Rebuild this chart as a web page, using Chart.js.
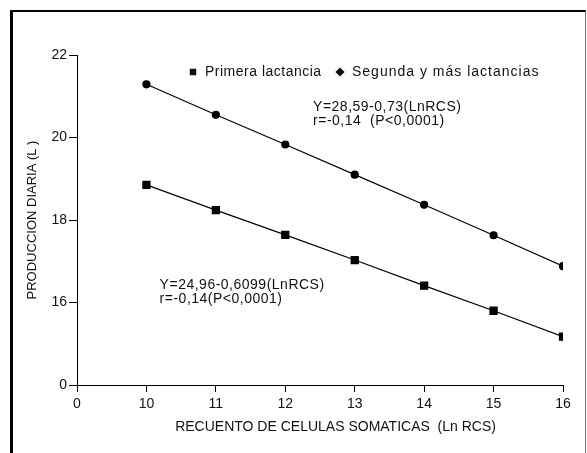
<!DOCTYPE html>
<html>
<head>
<meta charset="utf-8">
<script src="https://cdn.jsdelivr.net/npm/chart.js@4/dist/chart.umd.min.js"></script>
<style>
  html, body { margin: 0; padding: 0; background: #fff; overflow: hidden; }
  #wrap { position: relative; width: 587px; height: 453px; }
  #frame {
    position: absolute; left: 10px; top: 10px; width: 572px; height: 460px;
    border-left: 3px solid #000; border-top: 2px solid #000; border-right: 1px solid #777;
    pointer-events: none;
  }
</style>
</head>
<body>
<div id="wrap">
  <canvas id="chart" width="587" height="453"></canvas>
  <div id="frame"></div>
</div>
<script>
// values
const lnRcs = [10, 11, 12, 13, 14, 15, 16];
const primera = [18.85, 18.24, 17.64, 17.03, 16.41, 15.80, 15.17];
const segunda = [21.29, 20.55, 19.83, 19.10, 18.37, 17.63, 16.88];
const seriesNames = ['Primera lactancia', 'Segunda y más lactancias'];
const notePrimera = ['Y=24,96-0,6099(LnRCS)', 'r=-0,14(P<0,0001)'];
const noteSegunda = ['Y=28,59-0,73(LnRCS)', 'r=-0,14  (P<0,0001)'];

const FONT = 'Liberation Sans, Arial, Helvetica, sans-serif';

// legend row inside the plot and the regression texts
const notesPlugin = {
  id: 'notes',
  afterDatasetsDraw(chart) {
    const ctx = chart.ctx, x = chart.scales.x, y = chart.scales.y, area = chart.chartArea;
    ctx.save();
    ctx.fillStyle = '#111';
    ctx.strokeStyle = '#111';
    ctx.textAlign = 'left';
    ctx.textBaseline = 'middle';

    // legend
    ctx.font = '14px ' + FONT;
    const ly = area.top + 17;
    const marks = [{pointStyle: 'rect', radius: 4.6}, {pointStyle: 'rectRot', radius: 4.6}];
    const starts = [area.left + 116, area.left + 263];
    const spacing = ['0.5px', '1px'];
    seriesNames.forEach((name, i) => {
      Chart.helpers.drawPoint(ctx, Object.assign({rotation: 0, borderWidth: 0}, marks[i]), starts[i], ly);
      ctx.letterSpacing = spacing[i];
      ctx.fillText(name, starts[i] + 12, ly);
    });

    // regression equations
    ctx.letterSpacing = '0.5px';
    ctx.font = '14px ' + FONT;
    const put = (lines, dx, dy) => {
      lines.forEach((t, i) => ctx.fillText(t, x.getPixelForValue(dx), y.getPixelForValue(dy) + i * 14));
    };
    put(noteSegunda, 12.40, 20.74);
    put(notePrimera, 10.19, 16.42);
    ctx.restore();
  }
};

const context = document.getElementById('chart').getContext('2d');
const chart = new Chart(context, {
  type: 'line',
  data: {
    datasets: [{
      label: seriesNames[0],
      data: lnRcs.map((v, i) => ({x: v, y: primera[i]})),
      borderColor: '#000',
      backgroundColor: '#000',
      borderWidth: 1.2,
      pointStyle: 'rect',
      pointRadius: 5,
      pointHoverRadius: 5
    },
    {
      label: seriesNames[1],
      data: lnRcs.map((v, i) => ({x: v, y: segunda[i]})),
      borderColor: '#000',
      backgroundColor: '#000',
      borderWidth: 1.2,
      pointStyle: 'circle',
      pointRadius: 3.5,
      pointHoverRadius: 3.5
    }]
  },
  options: {
    responsive: false,
    animation: false,
    layout: { padding: {left: 0, top: 55, right: 24, bottom: 0} },
    plugins: {
      tooltip: { enabled: false },
      legend: { display: false }
    },
    scales: {
      x: {
        type: 'linear',
        min: 9,
        max: 16,
        afterFit(scale) { scale.height = 68; },
        ticks: {
          stepSize: 1,
          color: '#111',
          padding: 4,
          font: { family: FONT, size: 14 },
          callback: v => v === 9 ? '0' : v
        },
        grid: { drawOnChartArea: false, drawTicks: true, tickLength: 7, color: '#000' },
        border: { display: true, color: '#000', width: 1 },
        title: {
          display: true,
          text: '        RECUENTO DE CELULAS SOMATICAS  (Ln RCS)',
          color: '#111',
          font: { family: FONT, size: 14 },
          padding: {top: 0, bottom: 17}
        }
      },
      y: {
        min: 14,
        max: 22,
        afterFit(scale) { scale.width = 77; },
        ticks: {
          stepSize: 2,
          color: '#111',
          padding: 2,
          font: { family: FONT, size: 14 },
          callback: v => v === 14 ? '0' : v
        },
        grid: { drawOnChartArea: false, drawTicks: true, tickLength: 8, color: '#000' },
        border: { display: true, color: '#000', width: 1 },
        title: {
          display: true,
          text: 'PRODUCCION DIARIA (L )',
          color: '#111',
          font: { family: FONT, size: 13 },
          padding: {top: 25, bottom: 0}
        }
      }
    }
  },
  plugins: [notesPlugin]
});
</script>
</body>
</html>
